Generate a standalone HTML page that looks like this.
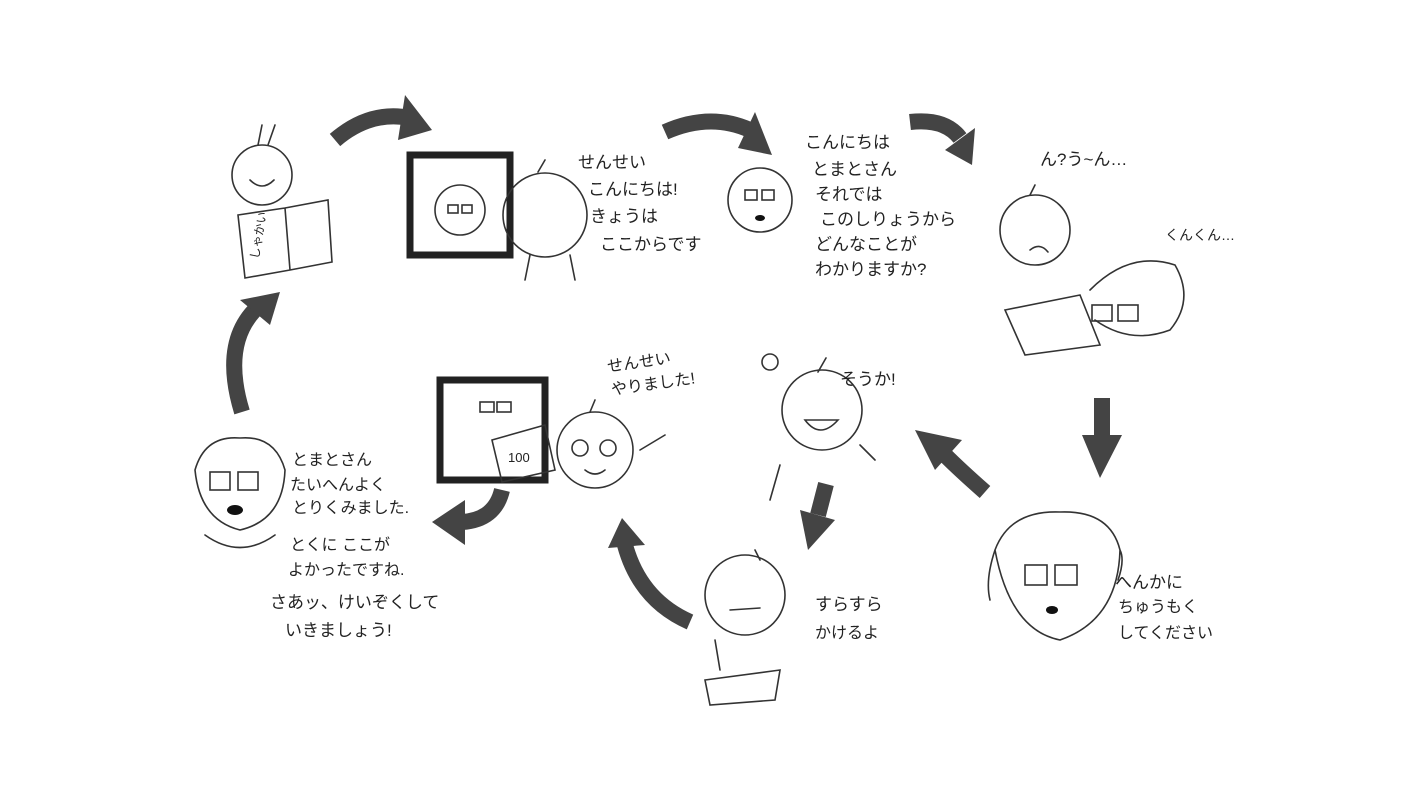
<!DOCTYPE html>
<html><head><meta charset="utf-8"><style>
html,body{margin:0;padding:0;background:#fff;}
svg{display:block}
text{font-family:"Liberation Sans","Noto Sans CJK JP",sans-serif;fill:#222;font-size:17px;}
.l{fill:none;stroke:#333;stroke-width:1.6;stroke-linecap:round}
.a{fill:none;stroke:#444;stroke-width:16;stroke-linecap:butt}
.h{fill:#444}
</style></head><body>
<svg width="1422" height="800" viewBox="0 0 1422 800">
<!-- arrows -->
<path class="a" d="M335,140 Q370,110 410,118"/><polygon class="h" points="405,95 432,130 398,140"/>
<path class="a" d="M665,132 Q710,112 750,130"/><polygon class="h" points="755,112 772,155 738,148"/>
<path class="a" d="M910,122 Q945,118 960,138"/><polygon class="h" points="975,128 972,165 945,150"/>
<path class="a" d="M1102,398 L1102,440"/><polygon class="h" points="1082,435 1122,435 1100,478"/>
<path class="a" d="M985,492 Q960,470 945,455"/><polygon class="h" points="915,430 962,440 935,470"/>
<path class="a" d="M826,484 L818,515"/><polygon class="h" points="800,510 835,520 808,550"/>
<path class="a" d="M690,622 Q640,600 625,545"/><polygon class="h" points="608,548 622,518 645,545"/>
<path class="a" d="M502,490 Q495,520 462,522"/><polygon class="h" points="465,500 432,522 465,545"/>
<path class="a" d="M242,412 Q220,340 260,305"/><polygon class="h" points="240,300 280,292 270,325"/>
<!-- scene 1 reader -->
<circle class="l" cx="262" cy="175" r="30"/><path class="l" d="M250,180 Q262,192 274,180 M258,145 L262,125 M268,145 L275,125"/>
<path class="l" d="M238,215 L285,208 L290,270 L245,278 Z M285,208 L328,200 L332,262 L290,270"/>
<text x="246" y="255" style="font-size:12px" transform="rotate(-80 255 250)">しゃかい</text>
<!-- scene 2 -->
<rect x="410" y="155" width="100" height="100" fill="none" stroke="#222" stroke-width="7"/>
<circle class="l" cx="460" cy="210" r="25"/><rect class="l" x="448" y="205" width="10" height="8"/><rect class="l" x="462" y="205" width="10" height="8"/>
<circle class="l" cx="545" cy="215" r="42"/><path class="l" d="M530,255 L525,280 M570,255 L575,280 M538,172 L545,160"/>
<text x="578" y="168">せんせい</text><text x="588" y="195">こんにちは!</text><text x="590" y="222">きょうは</text><text x="600" y="250">ここからです</text>
<!-- scene 3 -->
<circle class="l" cx="760" cy="200" r="32"/><rect class="l" x="745" y="190" width="12" height="10" stroke-width="3"/><rect class="l" x="762" y="190" width="12" height="10" stroke-width="3"/><ellipse cx="760" cy="218" rx="5" ry="3" fill="#111"/>
<text x="805" y="148">こんにちは</text><text x="812" y="175">とまとさん</text><text x="815" y="200">それでは</text><text x="820" y="225">このしりょうから</text><text x="815" y="250">どんなことが</text><text x="815" y="275">わかりますか?</text>
<!-- scene 4 -->
<text x="1040" y="165">ん?う~ん…</text><text x="1165" y="240" style="font-size:14px">くんくん…</text>
<circle class="l" cx="1035" cy="230" r="35"/><path class="l" d="M1030,195 L1035,185 M1030,250 Q1040,242 1048,252"/>
<path class="l" d="M1005,310 L1080,295 L1100,345 L1025,355 Z"/>
<path class="l" d="M1090,290 Q1130,250 1175,265 Q1195,300 1170,330 Q1130,345 1095,320"/>
<rect class="l" x="1092" y="305" width="20" height="16" stroke-width="3"/><rect class="l" x="1118" y="305" width="20" height="16" stroke-width="3"/>
<!-- scene 5 dog -->
<path class="l" d="M995,550 Q1010,510 1060,512 Q1110,510 1120,550 Q1118,620 1060,640 Q1010,630 995,550 Z M995,550 Q985,580 990,600 M1120,550 Q1125,560 1118,580"/>
<rect class="l" x="1025" y="565" width="22" height="20" stroke-width="3"/><rect class="l" x="1055" y="565" width="22" height="20" stroke-width="3"/><ellipse cx="1052" cy="610" rx="6" ry="4" fill="#111"/>
<text x="1115" y="588">へんかに</text><text x="1118" y="612" style="font-size:16px">ちゅうもく</text><text x="1118" y="638" style="font-size:16px">してください</text>
<!-- scene 6 -->
<circle class="l" cx="822" cy="410" r="40"/><path class="l" d="M805,420 Q820,440 838,420 Z M818,372 L826,358 M780,465 L770,500 M860,445 L875,460"/>
<circle class="l" cx="770" cy="362" r="8"/>
<text x="840" y="385">そうか!</text>
<!-- scene 7 -->
<circle class="l" cx="745" cy="595" r="40"/><path class="l" d="M755,550 L760,560 M730,610 L760,608 M705,680 L780,670 L775,700 L710,705 Z M715,640 L720,670"/>
<text x="815" y="610">すらすら</text><text x="815" y="638" style="font-size:16px">かけるよ</text>
<!-- scene 8 -->
<rect x="440" y="380" width="105" height="100" fill="none" stroke="#222" stroke-width="7"/>
<rect class="l" x="480" y="402" width="14" height="10"/><rect class="l" x="497" y="402" width="14" height="10"/>
<path class="l" d="M492,440 L545,425 L555,470 L502,482 Z"/><text x="508" y="462" style="font-size:13px">100</text>
<circle class="l" cx="595" cy="450" r="38"/><circle class="l" cx="580" cy="448" r="8"/><circle class="l" cx="608" cy="448" r="8"/><path class="l" d="M585,470 Q595,478 605,470 M590,412 L595,400 M640,450 L665,435"/>
<text x="608" y="372" style="font-size:16px" transform="rotate(-8 608 372)">せんせい</text><text x="612" y="395" style="font-size:16px" transform="rotate(-8 612 395)">やりました!</text>
<!-- scene 9 -->
<path class="l" d="M195,470 Q205,435 240,438 Q275,435 285,470 Q283,520 240,530 Q200,520 195,470 Z"/>
<rect class="l" x="210" y="472" width="20" height="18" stroke-width="3"/><rect class="l" x="238" y="472" width="20" height="18" stroke-width="3"/><ellipse cx="235" cy="510" rx="8" ry="5" fill="#111"/>
<path class="l" d="M205,535 Q240,560 275,535"/>
<text x="292" y="465" style="font-size:16px">とまとさん</text><text x="290" y="490" style="font-size:16px">たいへんよく</text><text x="292" y="513" style="font-size:16px">とりくみました.</text>
<text x="290" y="550" style="font-size:16px">とくに ここが</text><text x="288" y="575" style="font-size:16px">よかったですね.</text>
<text x="270" y="608" style="font-size:17px">さあッ、けいぞくして</text><text x="285" y="636" style="font-size:17px">いきましょう!</text>
</svg>
</body></html>
